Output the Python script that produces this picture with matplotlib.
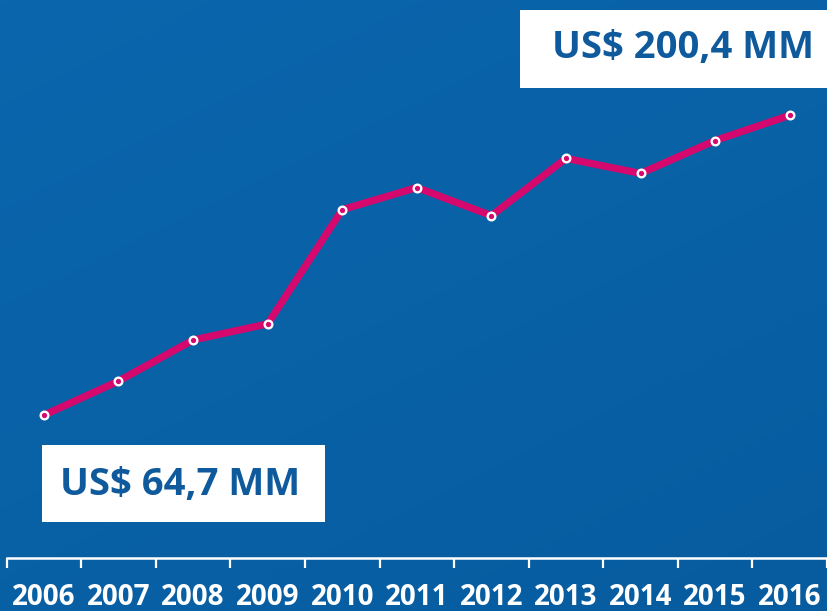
import numpy as np
import matplotlib.pyplot as plt
from matplotlib.patches import Rectangle
from matplotlib.colors import LinearSegmentedColormap

years = ['2006', '2007', '2008', '2009', '2010', '2011', '2012', '2013', '2014', '2015', '2016']
values = [64.7, 80.1, 98.7, 106.0, 157.7, 167.7, 155.0, 180.9, 174.1, 189.0, 200.4]
first_label = 'US$ 64,7 MM'
last_label = 'US$ 200,4 MM'

line_color = '#d5086e'
text_blue = '#0f5a9c'

plt.rcParams['font.family'] = ['Open Sans', 'DejaVu Sans']

fig = plt.figure(figsize=(8.27, 6.11), dpi=100)

# background gradient
bg = fig.add_axes([0, 0, 1, 1], zorder=0)
yy, xx = np.mgrid[0:1:200j, 0:1:200j]
grad = 0.6 * yy + 0.4 * xx
cmap = LinearSegmentedColormap.from_list('bg', ['#0b66ad', '#075c9f'])
bg.imshow(grad, cmap=cmap, aspect='auto', extent=[0, 1, 0, 1], origin='upper')
bg.axis('off')

ax = fig.add_axes([0.008, 0.0867, 0.992, 0.9133], zorder=1)
ax.patch.set_alpha(0)
x = np.arange(len(years))
ax.plot(x, values, color=line_color, lw=5.2, solid_capstyle='round', zorder=3)
ax.plot(x, values, 'o', ms=5.5, mfc=line_color, mec='white', mew=1.7, zorder=4)

ax.set_xlim(-0.5, len(years) - 0.5)
ax.set_ylim(0, 252.6)
ax.set_yticks([])
for s in ['top', 'right', 'left']:
    ax.spines[s].set_visible(False)
ax.spines['bottom'].set_color('white')
ax.spines['bottom'].set_linewidth(1.8)
ax.set_xticks(np.arange(-0.5, len(years), 1.0))
ax.set_xticklabels([])
ax.set_xticks(x, minor=True)
ax.set_xticklabels(years, minor=True)
ax.tick_params(axis='x', which='major', length=7, width=1.6, color='white', direction='out')
ax.tick_params(axis='x', which='minor', length=0, pad=18, labelsize=20, labelcolor='white')
for lbl in ax.get_xticklabels(minor=True):
    lbl.set_fontweight('bold')

# value boxes
fig.add_artist(Rectangle((0.0508, 0.1457), 0.342, 0.126, transform=fig.transFigure,
                         facecolor='white', edgecolor='none', zorder=5))
fig.text(0.072, 0.206, first_label, color=text_blue, fontsize=27.5, fontweight='bold',
         va='center', ha='left', zorder=6)
fig.add_artist(Rectangle((0.629, 0.856), 0.371, 0.128, transform=fig.transFigure,
                         facecolor='white', edgecolor='none', zorder=5))
fig.text(0.667, 0.921, last_label, color=text_blue, fontsize=27.5, fontweight='bold',
         va='center', ha='left', zorder=6)

fig.savefig('out.png', dpi=100)
